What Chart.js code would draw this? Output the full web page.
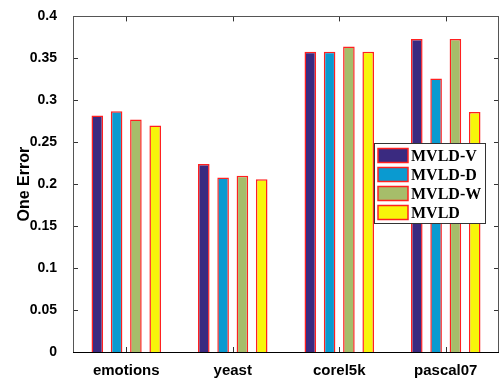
<!DOCTYPE html>
<html lang="en">
<head>
    <meta charset="UTF-8">
    <title>One Error</title>
    <script src="https://cdn.jsdelivr.net/npm/chart.js"></script>
    <style>
        html, body { margin: 0; padding: 0; background: #fff; }
        #wrap { width: 502px; height: 382px; }
    </style>
</head>
<body>
    <div id="wrap"><canvas id="oneErrorChart" width="502" height="382"></canvas></div>

    <script>
        // data
        const datasetNames = ['emotions', 'yeast', 'corel5k', 'pascal07'];
        const methodNames = ['MVLD-V', 'MVLD-D', 'MVLD-W', 'MVLD'];
        const mvldV = [0.282, 0.224, 0.358, 0.373];
        const mvldD = [0.287, 0.208, 0.358, 0.326];
        const mvldW = [0.277, 0.210, 0.364, 0.373];
        const mvld = [0.270, 0.206, 0.358, 0.286];
        const yTicks = [0, 0.05, 0.1, 0.15, 0.2, 0.25, 0.3, 0.35, 0.4];

        const seriesValues = [mvldV, mvldD, mvldW, mvld];
        const fillColors = ['#3a2a80', '#0a9ad0', '#a6bd6a', '#f7f50a'];

        // box around the plot with inward ticks on every side
        const boxPlugin = {
            id: 'box',
            afterDatasetsDraw(chart) {
                const ctx = chart.ctx;
                const a = chart.chartArea;
                const x = chart.scales.x;
                const y = chart.scales.y;
                ctx.save();
                ctx.strokeStyle = '#333';
                ctx.lineWidth = 1;
                ctx.beginPath();
                yTicks.forEach(v => {
                    const py = Math.round(y.getPixelForValue(v)) + 0.5;
                    ctx.moveTo(a.left, py); ctx.lineTo(a.left + 5, py);
                    ctx.moveTo(a.right, py); ctx.lineTo(a.right - 5, py);
                });
                datasetNames.forEach((n, i) => {
                    const px = Math.round(x.getPixelForValue(i)) + 0.5;
                    ctx.moveTo(px, a.top); ctx.lineTo(px, a.top + 5);
                    ctx.moveTo(px, a.bottom); ctx.lineTo(px, a.bottom - 5);
                });
                ctx.stroke();
                ctx.strokeStyle = '#555';
                ctx.strokeRect(Math.round(a.left) + 0.5, Math.round(a.top) + 0.5,
                    Math.round(a.right - a.left) - 1, Math.round(a.bottom - a.top));
                ctx.strokeStyle = '#000';
                ctx.beginPath();
                ctx.moveTo(a.left, Math.round(a.bottom) + 0.5);
                ctx.lineTo(a.right, Math.round(a.bottom) + 0.5);
                ctx.stroke();
                ctx.restore();
            }
        };

        // legend drawn inside the plot, right side
        const boxLegend = {
            id: 'boxLegend',
            afterDraw(chart) {
                const ctx = chart.ctx;
                const a = chart.chartArea;
                const left = a.right - 125, top = 143.5;
                ctx.save();
                ctx.fillStyle = '#fff';
                ctx.fillRect(left, top, 111, 80);
                ctx.strokeStyle = '#333';
                ctx.lineWidth = 1;
                ctx.strokeRect(left + 0.5, top, 111, 80);
                ctx.font = 'bold 16px "Liberation Serif"';
                ctx.textBaseline = 'middle';
                chart.data.datasets.forEach((ds, i) => {
                    const ry = top + 5 + i * 19;
                    ctx.fillStyle = ds.backgroundColor;
                    ctx.fillRect(left + 4, ry, 30, 14);
                    ctx.strokeStyle = '#ff2020';
                    ctx.lineWidth = 1.5;
                    ctx.strokeRect(left + 4, ry, 30, 14);
                    ctx.fillStyle = '#000';
                    ctx.fillText(ds.label, left + 37, ry + 8);
                });
                ctx.restore();
            }
        };

        const ctx = document.getElementById('oneErrorChart').getContext('2d');
        new Chart(ctx, {
            type: 'bar',
            data: {
                labels: datasetNames,
                datasets: methodNames.map((name, i) => ({
                    label: name,
                    data: seriesValues[i],
                    backgroundColor: fillColors[i],
                    borderColor: '#ff2020',
                    borderWidth: 1.5,
                    categoryPercentage: 0.725,
                    barPercentage: 0.6
                }))
            },
            options: {
                responsive: false,
                animation: false,
                layout: { padding: { top: 15, right: 3, left: 0, bottom: 0 } },
                plugins: {
                    legend: { display: false },
                    tooltip: { enabled: false }
                },
                scales: {
                    x: {
                        grid: { display: false },
                        border: { display: false },
                        ticks: {
                            color: '#000',
                            padding: 2,
                            font: { family: 'Liberation Sans', size: 15, weight: 'bold' }
                        },
                        afterFit(scale) { scale.height = 30; }
                    },
                    y: {
                        min: 0,
                        max: 0.4,
                        grid: { display: false },
                        border: { display: false },
                        afterBuildTicks(scale) { scale.ticks = yTicks.map(v => ({ value: v })); },
                        ticks: {
                            color: '#000',
                            padding: 8,
                            font: { family: 'Liberation Sans', size: 14, weight: 'bold' },
                            callback: v => String(Number(v.toFixed(2)))
                        },
                        title: {
                            display: true,
                            text: 'One Error',
                            color: '#000',
                            padding: { top: 15, bottom: 0 },
                            font: { family: 'Liberation Sans', size: 16, weight: 'bold' }
                        },
                        afterFit(scale) { scale.width = 73; }
                    }
                }
            },
            plugins: [boxPlugin, boxLegend]
        });
    </script>
</body>
</html>
